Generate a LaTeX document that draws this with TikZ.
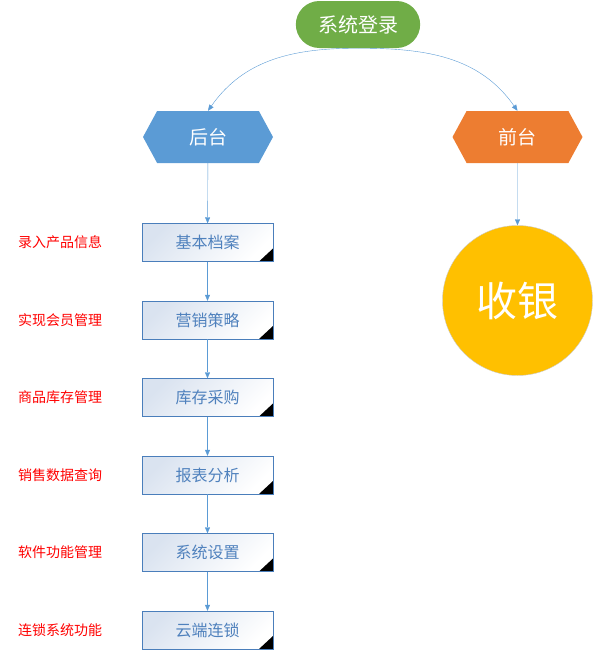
\documentclass[tikz,border=0pt]{standalone}
\usepackage{fontspec}
\setmainfont{Noto Sans CJK SC}
\usepackage{tikz}
\usetikzlibrary{arrows.meta, shapes.misc, shapes.symbols}
\definecolor{loginGreen}{HTML}{70AD47}
\definecolor{backBlue}{HTML}{5B9BD5}
\definecolor{frontOrange}{HTML}{ED7D31}
\definecolor{cashGold}{HTML}{FFC000}
\definecolor{boxEdge}{HTML}{4A7EBB}
\definecolor{boxText}{HTML}{4F81BD}
\definecolor{boxShade}{HTML}{DAE3F0}
\tikzset{
    pill/.style={rounded rectangle, fill=loginGreen, text=white, minimum width=131pt, minimum height=47pt, font=\fontsize{20}{20}\selectfont},
    hexa/.style={signal, signal to=east and west, signal pointer angle=123, text=white, minimum width=130pt, minimum height=52pt, inner sep=0pt, font=\fontsize{19}{19}\selectfont},
    module/.style={draw=boxEdge, left color=boxShade, right color=white, shading angle=45, text=boxText, minimum width=131pt, minimum height=38pt, font=\fontsize{16}{16}\selectfont,
        path picture={\fill[black] (path picture bounding box.south east) -- ++(-14pt,0) -- ++(14pt,13pt) -- cycle;}},
    note/.style={anchor=west, text=red, inner sep=0pt, font=\fontsize{14}{14}\selectfont},
    flow/.style={draw=backBlue, -{Triangle[length=6pt,width=5pt]}}
}
\begin{document}
\begin{tikzpicture}[x=1pt, y=-1pt]
    \useasboundingbox (0,0) rectangle (605,654);
    \node[pill] (login) at (358,24.5) {系统登录};
    \node[hexa, fill=backBlue] (back) at (208,137) {后台};
    \node[hexa, fill=frontOrange] (front) at (517.5,137) {前台};
    \node[circle, fill=cashGold, draw=gray!40, minimum size=150pt, text=white, font=\fontsize{41}{41}\selectfont] (cash) at (517.5,300.5) {收银};
    \draw[flow] (login.south) to[out=180, in=55] (back.north);
    \draw[flow] (login.south) to[out=0, in=125] (front.north);
    \draw[flow] (front) -- (cash);
    % back-office modules with their notes
    \foreach \name/\tag [count=\i] in {基本档案/录入产品信息, 营销策略/实现会员管理, 库存采购/商品库存管理, 报表分析/销售数据查询, 系统设置/软件功能管理, 云端连锁/连锁系统功能} {
        \node[module] (m\i) at (207.5, 165+77.5*\i) {\name};
        \node[note] (n\i) at (18, 165+77.5*\i) {\tag};
    }
    \draw[flow] (back) -- (m1);
    \foreach \i/\j in {1/2, 2/3, 3/4, 4/5, 5/6} \draw[flow] (m\i) -- (m\j);
\end{tikzpicture}
\end{document}
